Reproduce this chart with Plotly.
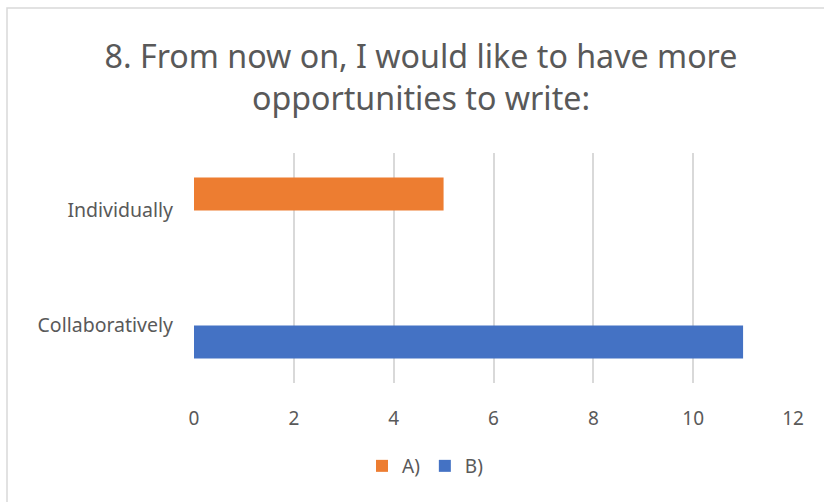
import plotly.graph_objects as go

categories = ["Individually", "Collaboratively"]
series_names = ["A)", "B)"]
a_values = [5, None]
b_values = [None, 11]
x_ticks = [0, 2, 4, 6, 8, 10, 12]
title_text = "8. From now on, I would like to have more<br>opportunities to write:"

text_color = "#595959"
grid_color = "#d9d9d9"
font_family = "Noto Sans"

fig = go.Figure()
fig.add_trace(go.Bar(y=categories, x=a_values, name=series_names[0], orientation="h",
                     marker=dict(color="#ed7d31", line=dict(width=0))))
fig.add_trace(go.Bar(y=categories, x=b_values, name=series_names[1], orientation="h",
                     marker=dict(color="#4472c4", line=dict(width=0))))

fig.update_layout(
    width=824, height=502,
    margin=dict(l=194, r=31, t=153, b=119),
    paper_bgcolor="white", plot_bgcolor="white",
    barmode="group", bargap=0.426, bargroupgap=0,
    font=dict(family=font_family, color=text_color, size=19),
    title=dict(text=title_text, x=421/824, xanchor="center", xref="container",
               y=1-68/502, yanchor="middle", yref="container",
               font=dict(family=font_family, size=32.2, color=text_color)),
    xaxis=dict(range=[0, 12], tickvals=x_ticks, showgrid=True, gridcolor=grid_color,
               gridwidth=1.5, zeroline=False, showline=False, ticks="",
               ticklabelstandoff=22, tickfont=dict(size=19, color=text_color)),
    yaxis=dict(autorange="reversed", showgrid=False, zeroline=False, showline=False,
               ticks="", ticklabelstandoff=20, tickfont=dict(size=19.5, color=text_color)),
    legend=dict(orientation="h", x=425/824, xanchor="center", xref="container",
                y=1-466/502, yanchor="middle", yref="container",
                font=dict(size=19, color=text_color), itemwidth=30),
    shapes=[dict(type="rect", xref="paper", yref="paper",
                 x0=(7-194)/599, x1=(830-194)/599, y0=(383-510)/230, y1=(383-8)/230,
                 line=dict(color=grid_color, width=1.5), layer="below")],
)

fig.write_html("out.html")
